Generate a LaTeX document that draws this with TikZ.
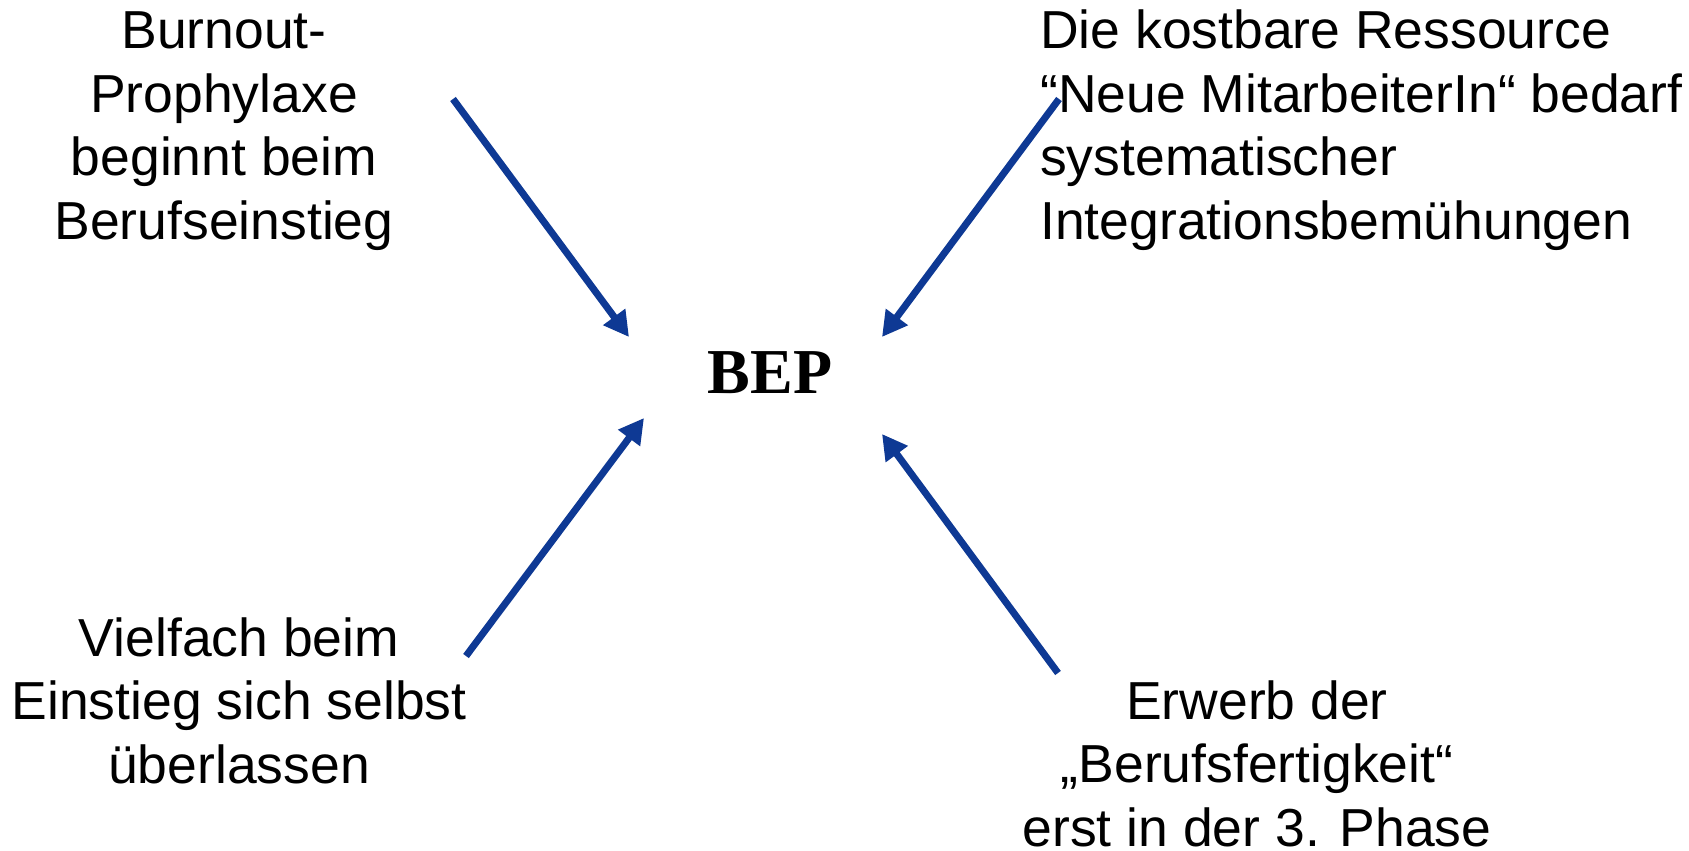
\documentclass[tikz,border=0pt]{standalone}
\usepackage{fontspec}
\setmainfont{Liberation Sans}
\newfontfamily\bepfont{Liberation Serif}
\usepackage{xcolor}
\usetikzlibrary{positioning,arrows.meta}
\definecolor{arrowblue}{RGB}{14,57,148}

\begin{document}
\begin{tikzpicture}[
  x=1pt, y=-1pt,
  mynode/.style={inner sep=0pt,anchor=base,align=center,
    font=\fontsize{53.5}{63.5}\selectfont},
  myarrow/.style={draw=arrowblue,line width=7pt,
    -{Triangle[length=25pt,width=26pt]}}
    ]
\useasboundingbox (0,0) rectangle (1689,851);

% centre
\node[inner sep=0pt,anchor=base,font=\bepfont\bfseries\fontsize{64}{70}\selectfont] (bep) at (770,393) {BEP};

% the four statements (anchored at their last line)
\node[mynode] (bp) at (224,239) {Burnout-\\Prophylaxe\\beginnt beim\\Berufseinstieg};
\node[mynode,align=left,anchor=base west] (res) at (1040,239) {Die kostbare Ressource\\“Neue MitarbeiterIn“ bedarf\\systematischer\\Integrationsbemühungen};
\node[mynode] (vf) at (239,783) {Vielfach beim\\Einstieg sich selbst\\überlassen};
\node[mynode] (ew) at (1257,846) {Erwerb der\\„Berufsfertigkeit“\\erst in der 3. Phase};

\coordinate (bp1) at (453,99);  \coordinate (bp2) at (629,337);
\coordinate (res1) at (1059,99); \coordinate (res2) at (882,337);
\coordinate (vf1) at (466,656); \coordinate (vf2) at (644,418);
\coordinate (ew1) at (1058,673); \coordinate (ew2) at (882,434);

\path (bp1) edge[myarrow] (bp2)
(res1) edge[myarrow] (res2)
(vf1) edge[myarrow] (vf2)
(ew1) edge[myarrow] (ew2);

\end{tikzpicture}
\end{document}
